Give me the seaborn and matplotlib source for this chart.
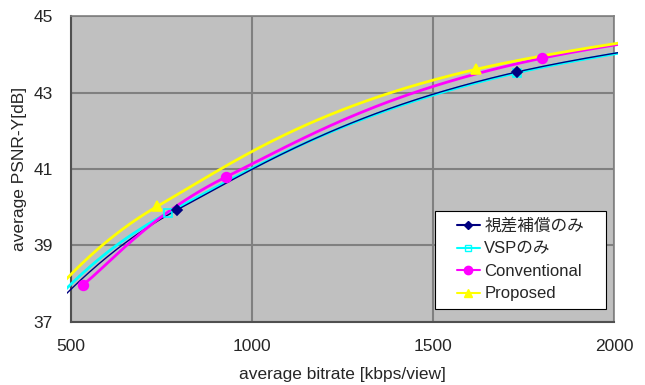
import numpy as np
import pandas as pd
import matplotlib
matplotlib.use("Agg")
import matplotlib.pyplot as plt
from matplotlib.lines import Line2D
from matplotlib.transforms import Bbox, TransformedBbox
import seaborn as sns

# ---- data (first/last points lie outside the axis range) ----
series_names = ["視差補償のみ", "VSPのみ", "Conventional", "Proposed"]
disp_x = [360, 793, 1732, 3600]
disp_y = [36.55, 39.93, 43.54, 46.00]
vsp_x = [360, 768, 1732, 3600]
vsp_y = [36.65, 39.85, 43.52, 46.00]
conv_x = [533, 928, 1801, 3600]
conv_y = [37.97, 40.79, 43.90, 46.10]
prop_x = [340, 738, 1619, 3500]
prop_y = [36.60, 40.02, 43.61, 46.10]
x_ticks = [500, 1000, 1500, 2000]
y_ticks = [37, 39, 41, 43, 45]

sns.set_style("white")
plt.rcParams["font.family"] = ["Liberation Sans", "Noto Sans CJK JP", "DejaVu Sans"]


def excel_smooth(xs, ys, n=60):
    """Excel-style smoothed line: cubic Bezier segments with control points
    P_i + (P_{i+1}-P_{i-1})/6, end points duplicated."""
    P = np.column_stack([np.asarray(xs, float), np.asarray(ys, float)])
    Pe = np.vstack([P[0], P, P[-1]])
    t = np.linspace(0, 1, n)[:, None]
    out = []
    for i in range(1, len(Pe) - 2):
        p0, p1, p2, p3 = Pe[i - 1], Pe[i], Pe[i + 1], Pe[i + 2]
        c1 = p1 + (p2 - p0) / 6.0
        c2 = p2 - (p3 - p1) / 6.0
        seg = ((1 - t) ** 3) * p1 + 3 * ((1 - t) ** 2) * t * c1 \
            + 3 * (1 - t) * t ** 2 * c2 + t ** 3 * p2
        out.append(seg if i == 1 else seg[1:])
    return np.vstack(out)


series = [
    (series_names[0], disp_x, disp_y, "#000080", "D", 1.0, True, 5),
    (series_names[1], vsp_x, vsp_y, "#00FFFF", "s", 2.0, False, 6),
    (series_names[2], conv_x, conv_y, "#FF00FF", "o", 2.0, True, 7),
    (series_names[3], prop_x, prop_y, "#FFFF00", "^", 2.0, True, 7),
]
draw_order = [1, 0, 2, 3]

fig = plt.figure(figsize=(6.45, 3.85), dpi=100)
ax = fig.add_axes([0.110, 0.164, 0.842, 0.794])
ax.set_facecolor("#C0C0C0")
ax.set_xlim(500, 2000)
ax.set_ylim(37, 45)

clip_bb = TransformedBbox(Bbox([[-0.008, -0.015], [1.008, 1.015]]), ax.transAxes)

for idx in draw_order:
    name, xs, ys, col, mk, lw, filled, ms = series[idx]
    curve = excel_smooth(xs, ys)
    df = pd.DataFrame({"x": curve[:, 0], "y": curve[:, 1]})
    n_before = len(ax.lines)
    sns.lineplot(data=df, x="x", y="y", ax=ax, color=col, linewidth=lw,
                 sort=False, estimator=None, zorder=3)
    for ln in ax.lines[n_before:]:
        ln.set_clip_box(clip_bb)
    ax.plot(xs, ys, linestyle="none", marker=mk, markersize=ms,
            markerfacecolor=(col if filled else "none"),
            markeredgecolor=col, markeredgewidth=1.2, zorder=4)

ax.set_xlim(500, 2000)
ax.set_ylim(37, 45)
ax.set_xticks(x_ticks)
ax.set_yticks(y_ticks)
ax.set_xticklabels([str(v) for v in x_ticks], fontsize=12.5)
ax.set_yticklabels([str(v) for v in y_ticks], fontsize=12.5)
ax.tick_params(axis="both", length=0)
ax.tick_params(axis="x", pad=12)
ax.tick_params(axis="y", pad=13)
ax.grid(True, color="#808080", linewidth=1.5)
ax.set_axisbelow(True)
for s in ["top", "right"]:
    ax.spines[s].set_color("#808080")
    ax.spines[s].set_linewidth(1.2)
for s in ["left", "bottom"]:
    ax.spines[s].set_color("#505050")
    ax.spines[s].set_linewidth(1.5)

ax.set_xlabel("average bitrate [kbps/view]", fontsize=12.5, labelpad=10)
ax.set_ylabel("average PSNR-Y[dB]", fontsize=12.5, labelpad=5)

handles = []
for name, xs, ys, col, mk, lw, filled, ms in series:
    handles.append(Line2D([0], [0], color=col, linewidth=1.5, marker=mk,
                          markersize=ms - 1,
                          markerfacecolor=(col if filled else "none"),
                          markeredgecolor=col))
leg = ax.legend(handles, series_names, loc="lower left", mode="expand",
                bbox_to_anchor=(0.670, 0.0425, 0.315, 0.1), fontsize=12,
                frameon=True, fancybox=False, framealpha=1, edgecolor="black",
                handlelength=1.4, handletextpad=0.25, labelspacing=0.45,
                borderpad=0.45, borderaxespad=0)
leg.get_frame().set_linewidth(0.8)
try:
    # centre the entries inside the wider box (as in the reference)
    leg._legend_handle_box.mode = "fixed"
except Exception:
    pass

fig.savefig("out.png", dpi=100)
